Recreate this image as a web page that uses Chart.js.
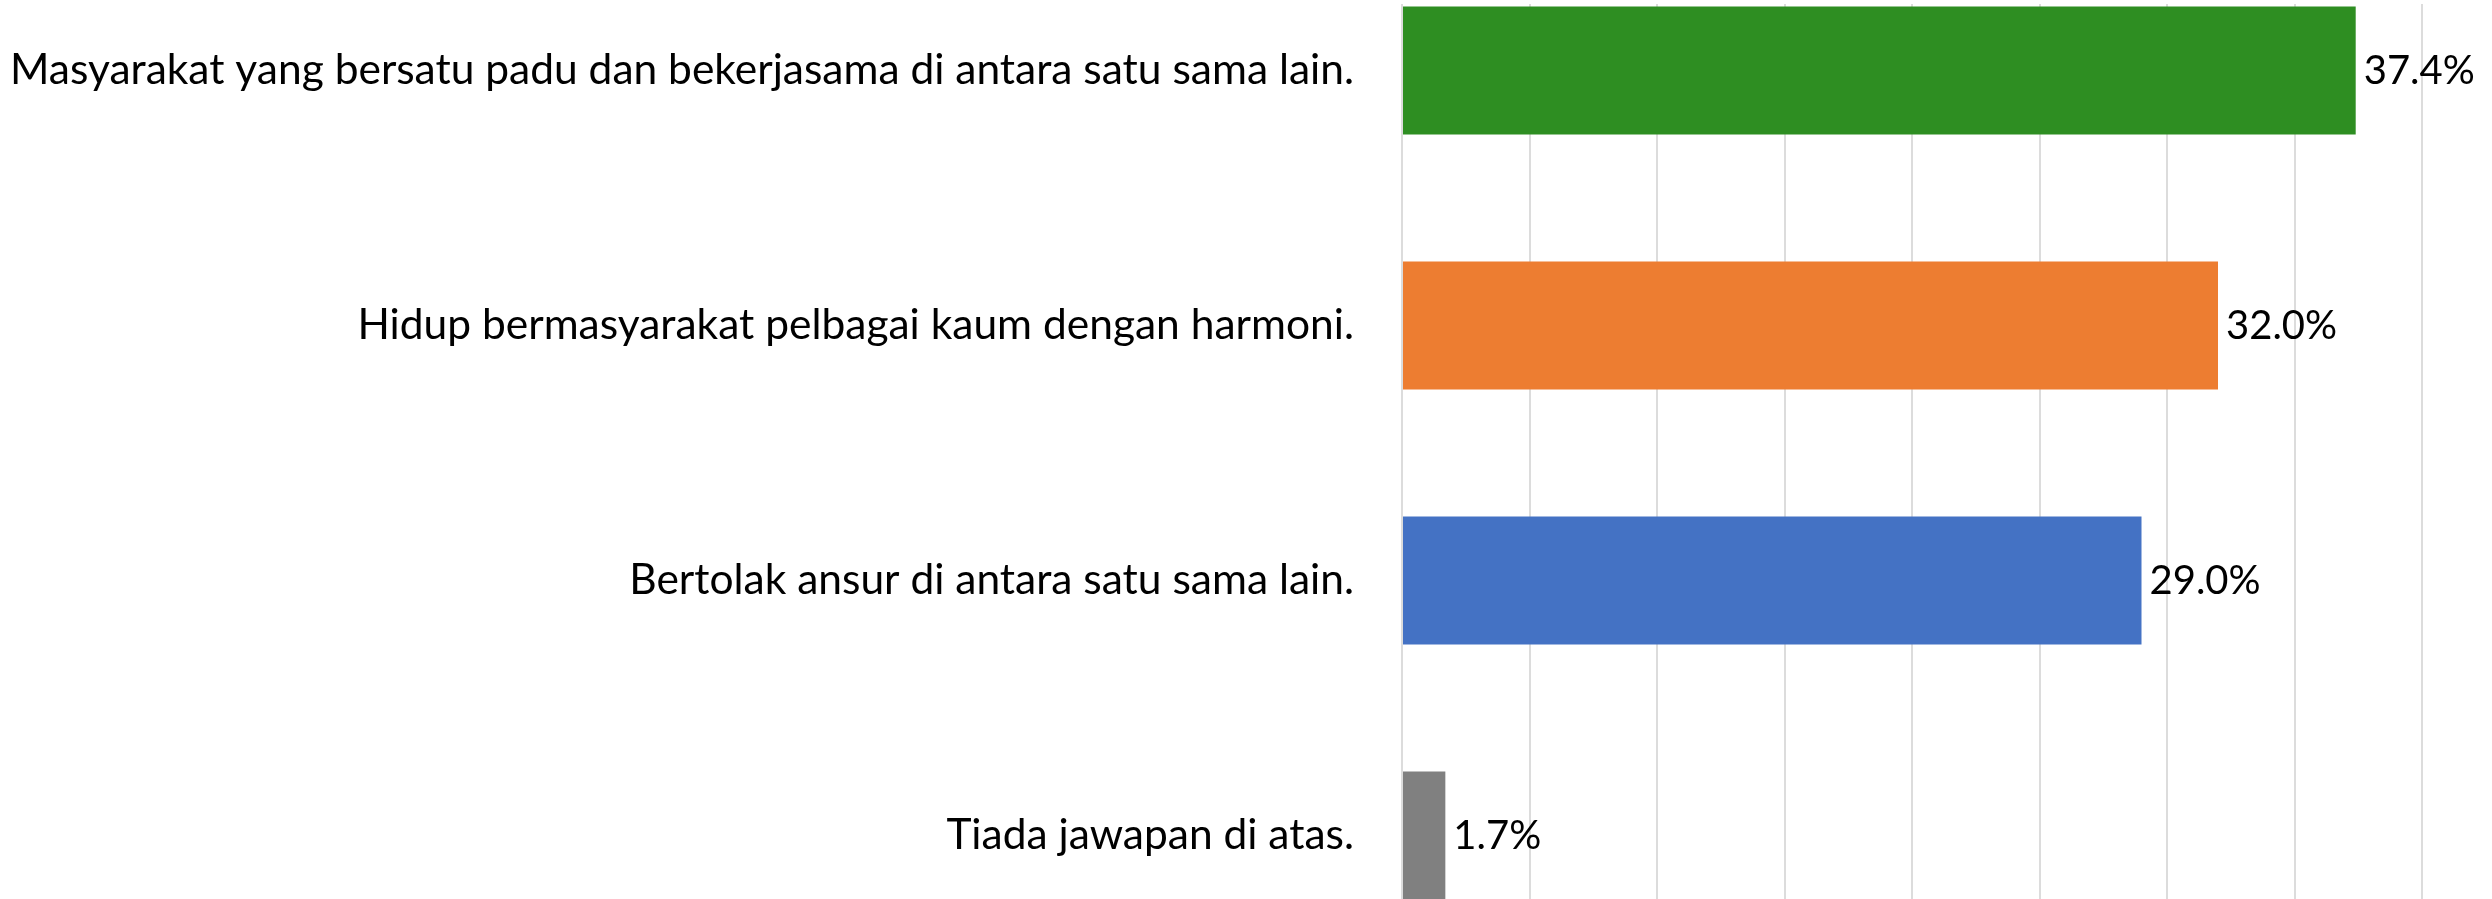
<!DOCTYPE html>
<html>
<head>
<meta charset="utf-8">
<script src="https://cdn.jsdelivr.net/npm/chart.js@4.4.1/dist/chart.umd.min.js"></script>
<style>
  html, body { margin: 0; padding: 0; background: #ffffff; width: 2492px; height: 899px; overflow: hidden; }
  #clip { position: absolute; left: 0; top: 4px; width: 2492px; height: 895px; overflow: hidden; }
  #c { position: absolute; left: 0; top: -61px; }
</style>
</head>
<body>
<div id="clip"><canvas id="c" width="2492" height="1020" style="width:2492px;height:1020px"></canvas></div>
<script>
const categories = [
  "Masyarakat yang bersatu padu dan bekerjasama di antara satu sama lain.",
  "Hidup bermasyarakat pelbagai kaum dengan harmoni.",
  "Bertolak ansur di antara satu sama lain.",
  "Tiada jawapan di atas."
];
const values = [37.4, 32.0, 29.0, 1.7];
const barColors = ["#2E8E22", "#ED7D31", "#4472C4", "#808080"];
const xTicks = [0, 5, 10, 15, 20, 25, 30, 35, 40];

const valueLabels = {
  id: 'valueLabels',
  afterDatasetsDraw(chart) {
    const ctx = chart.ctx;
    const meta = chart.getDatasetMeta(0);
    ctx.save();
    ctx.font = '40px Lato';
    ctx.fillStyle = '#000000';
    ctx.textAlign = 'left';
    ctx.textBaseline = 'middle';
    meta.data.forEach((el, i) => {
      ctx.fillText(values[i].toFixed(1) + '%', el.x + 8, el.y + 1);
    });
    ctx.restore();
  }
};

new Chart(document.getElementById('c'), {
  type: 'bar',
  data: {
    labels: categories,
    datasets: [{
      data: values,
      backgroundColor: barColors,
      borderWidth: 0,
      categoryPercentage: 1.0,
      barPercentage: 0.502
    }]
  },
  options: {
    indexAxis: 'y',
    responsive: false,
    devicePixelRatio: 1,
    animation: false,
    layout: { padding: { left: 0, right: 70, top: 0, bottom: 0 } },
    plugins: { legend: { display: false }, tooltip: { enabled: false } },
    scales: {
      x: {
        min: 0,
        max: 40,
        afterBuildTicks(scale) { scale.ticks = xTicks.map(v => ({ value: v })); },
        afterFit(scale) { scale.height = 0; scale.paddingLeft = 0; scale.paddingRight = 0; },
        ticks: { display: false },
        grid: { color: '#dcdcdc', lineWidth: 2, drawTicks: false },
        border: { display: false }
      },
      y: {
        afterFit(scale) { scale.width = 1402; scale.paddingTop = 0; scale.paddingBottom = 0; },
        ticks: {
          color: '#000000',
          font: { family: 'Lato', size: 42.5 },
          padding: 48
        },
        grid: { display: false, drawTicks: false },
        border: { display: false }
      }
    }
  },
  plugins: [valueLabels]
});
</script>
</body>
</html>
